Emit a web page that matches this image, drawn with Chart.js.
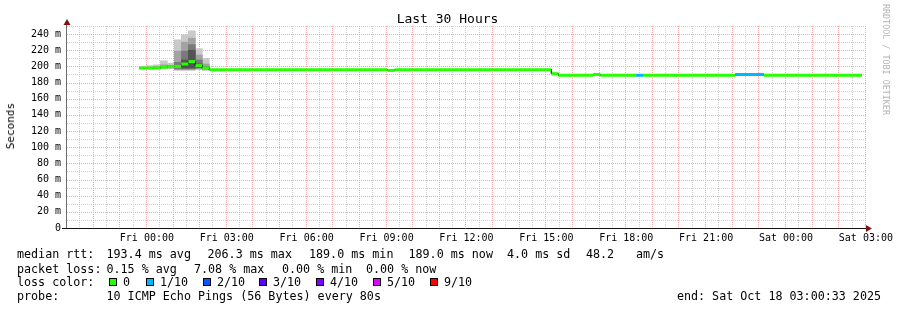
<!DOCTYPE html>
<html>
<head>
<meta charset="utf-8">
<script src="https://cdn.jsdelivr.net/npm/chart.js@4.4.1/dist/chart.umd.min.js"></script>
<style>
  body { margin: 0; background: #fff; }
  #wrap { position: relative; width: 897px; height: 310px; font-family: "DejaVu Sans Mono", monospace; color: #000; overflow: hidden; }
  #wrap canvas { position: absolute; left: 0; top: 0; }
  .t { position: absolute; white-space: pre; font-size: 11.7px; line-height: 14px; }
  .box { position: absolute; width: 8px; height: 8px; box-sizing: border-box; border: 1px solid #000; }
  #title { position: absolute; left: 447.5px; top: 11px; transform: translateX(-50%); font-size: 13px; line-height: 16px; white-space: pre; }
  #ytitle { position: absolute; left: 4px; top: 103px; writing-mode: vertical-rl; transform: rotate(180deg); font-size: 11px; line-height: 13px; white-space: pre; color: #000; }
  #credit { position: absolute; left: 881px; top: 4px; writing-mode: vertical-rl; font-size: 8.4px; line-height: 10px; color: #b4b4b4; white-space: pre; }
</style>
</head>
<body>
<div id="wrap">
  <canvas id="myChart" width="897" height="310"></canvas>
  <div id="title">Last 30 Hours</div>
  <div id="ytitle">Seconds</div>
  <div id="credit">RRDTOOL / TOBI OETIKER</div>

  <div class="t" style="left:17px;top:247px">median rtt:</div>
  <div class="t" style="left:106.5px;top:247px">193.4 ms avg</div>
  <div class="t" style="left:207.5px;top:247px">206.3 ms max</div>
  <div class="t" style="left:309px;top:247px">189.0 ms min</div>
  <div class="t" style="left:408.5px;top:247px">189.0 ms now</div>
  <div class="t" style="left:507px;top:247px">4.0 ms sd</div>
  <div class="t" style="left:586px;top:247px">48.2</div>
  <div class="t" style="left:636px;top:247px">am/s</div>

  <div class="t" style="left:17px;top:262px">packet loss:</div>
  <div class="t" style="left:106.5px;top:262px">0.15 % avg</div>
  <div class="t" style="left:194px;top:262px">7.08 % max</div>
  <div class="t" style="left:282px;top:262px">0.00 % min</div>
  <div class="t" style="left:366px;top:262px">0.00 % now</div>

  <div class="t" style="left:17px;top:275px">loss color:</div>
  <div class="box" style="left:109px;top:278px;background:#26ff00"></div>
  <div class="t" style="left:123px;top:275px">0</div>
  <div class="box" style="left:146px;top:278px;background:#00b8ff"></div>
  <div class="t" style="left:160px;top:275px">1/10</div>
  <div class="box" style="left:203px;top:278px;background:#0059ff"></div>
  <div class="t" style="left:217px;top:275px">2/10</div>
  <div class="box" style="left:259px;top:278px;background:#5e00ff"></div>
  <div class="t" style="left:273px;top:275px">3/10</div>
  <div class="box" style="left:316px;top:278px;background:#7e00ff"></div>
  <div class="t" style="left:330px;top:275px">4/10</div>
  <div class="box" style="left:373px;top:278px;background:#dd00ff"></div>
  <div class="t" style="left:387px;top:275px">5/10</div>
  <div class="box" style="left:430px;top:278px;background:#ff0000"></div>
  <div class="t" style="left:444px;top:275px">9/10</div>

  <div class="t" style="left:17px;top:289px">probe:</div>
  <div class="t" style="left:106.5px;top:289px">10 ICMP Echo Pings (56 Bytes) every 80s</div>
  <div class="t" style="right:16px;top:289px">end: Sat Oct 18 03:00:33 2025</div>
</div>

<script>
// x axis is hours since Thu 21:00
const xTickHours = [3, 6, 9, 12, 15, 18, 21, 24, 27, 30];
const xTickLabels = ["Fri 00:00", "Fri 03:00", "Fri 06:00", "Fri 09:00", "Fri 12:00",
                     "Fri 15:00", "Fri 18:00", "Fri 21:00", "Sat 00:00", "Sat 03:00"];
const yTickValues = [0, 20, 40, 60, 80, 100, 120, 140, 160, 180, 200, 220, 240];

const lossColors = ["#26ff00", "#00b8ff", "#0059ff", "#5e00ff", "#7e00ff", "#dd00ff", "#ff0000"];

// median rtt (ms) as steps: medEdges[i]..medEdges[i+1] has medValues[i]
const medEdges  = [2.72, 2.98, 3.24, 3.51, 3.77, 4.03, 4.29, 4.56, 4.82, 5.08, 5.34,
                   12.04, 12.30, 18.19, 18.45, 19.76, 20.03, 21.37, 21.64, 25.09, 26.17, 29.85];
const medValues = [198, 198, 198, 199, 200, 200, 203, 206, 201, 198,
                   196, 195, 196, 191, 189, 190, 189, 189, 189, 190, 189];
const medLoss   = [0, 0, 0, 0, 0, 0, 0, 0, 0, 0,
                   0, 0, 0, 0, 0, 0, 0, 1, 0, 1, 0];

// smoke (ping spread) columns, ms ranges, outer to inner
const smokeHours = [2.85, 3.1125, 3.375, 3.6375, 3.9, 4.1625, 4.425, 4.6875, 4.95, 5.2125];
const smokeOuter = [[196.5, 200], [196.5, 201], [197, 202], [197, 207], [197, 204],
                    [195, 233], [195, 239], [195, 244], [196, 222], [195, 210]];
const smokeMid   = [null, null, [197.5, 200], [198, 202], [198, 201],
                    [196, 219], [196, 230], [196, 235], [197, 214], [196, 203]];
const smokeInner = [null, null, null, null, null,
                    [197, 205], [197, 219], [197, 227], [198, 208], [197, 200]];
const smokeCore  = [null, null, null, null, null,
                    null, [198, 208], [198, 220], [199, 203], null];

const medPoints = [];
medValues.forEach((v, i) => {
  medPoints.push({x: medEdges[i], y: v});
  medPoints.push({x: medEdges[i + 1], y: v});
});

function smokeSet(ranges, color, order) {
  return {
    type: "bar",
    data: smokeHours.map((h, i) => ({x: h, y: ranges[i]})).filter(p => p.y),
    backgroundColor: color,
    borderWidth: 0,
    barPercentage: 1,
    categoryPercentage: 1,
    grouped: false,
    order: order
  };
}

const rrdLook = {
  id: "rrdLook",
  beforeDatasetsDraw(chart) {
    const {ctx, chartArea: a, scales: {x, y}} = chart;
    ctx.save();
    ctx.lineWidth = 1;
    ctx.setLineDash([1, 1]);
    const vline = (h, c) => {
      const px = Math.round(x.getPixelForValue(h)) - 0.5;
      ctx.strokeStyle = c;
      ctx.beginPath(); ctx.moveTo(px, a.top); ctx.lineTo(px, a.bottom); ctx.stroke();
    };
    const hline = (v, c) => {
      const py = Math.round(y.getPixelForValue(v)) + 0.5;
      ctx.strokeStyle = c;
      ctx.beginPath(); ctx.moveTo(a.left, py); ctx.lineTo(a.right, py); ctx.stroke();
    };
    for (let h = 0.5; h < 30; h += 1) vline(h, "#cfcfcf");
    for (let v = 10; v <= 250; v += 20) hline(v, "#cfcfcf");
    for (let h = 1; h <= 30; h += 1) vline(h, "#f7a8a8");
    for (let v = 20; v <= 240; v += 20) hline(v, "#f7a8a8");
    ctx.restore();
  },
  afterDatasetsDraw(chart) {
    const {ctx, chartArea: a} = chart;
    ctx.save();
    ctx.lineWidth = 1;
    ctx.strokeStyle = "#6e6e6e";
    ctx.beginPath(); ctx.moveTo(66.5, a.bottom); ctx.lineTo(66.5, a.top - 5); ctx.stroke();
    ctx.strokeStyle = "#111";
    ctx.beginPath(); ctx.moveTo(62, a.bottom + 0.5); ctx.lineTo(a.right + 3, a.bottom + 0.5); ctx.stroke();
    ctx.fillStyle = "#7f1010";
    ctx.beginPath(); ctx.moveTo(67, a.top - 7); ctx.lineTo(63.5, a.top - 1); ctx.lineTo(70.5, a.top - 1); ctx.closePath(); ctx.fill();
    ctx.beginPath(); ctx.moveTo(a.right + 6, a.bottom + 0.5); ctx.lineTo(a.right, a.bottom - 3); ctx.lineTo(a.right, a.bottom + 4); ctx.closePath(); ctx.fill();
    ctx.restore();
  }
};

const ctx = document.getElementById("myChart");

let config = {
  type: "line",
  data: {
    datasets: [
      {
        data: medPoints,
        borderColor: lossColors[0],
        borderWidth: 3,
        borderCapStyle: "butt",
        pointRadius: 0,
        tension: 0,
        fill: false,
        order: 0,
        segment: {
          borderColor: c => c.p0.parsed.x === c.p1.parsed.x
            ? "rgba(0,0,0,0)"
            : lossColors[medLoss[Math.floor(c.p0DataIndex / 2)]]
        }
      },
      {
        data: medPoints,
        borderColor: "#000",
        borderWidth: 1,
        pointRadius: 0,
        tension: 0,
        fill: false,
        order: 1
      },
      smokeSet(smokeCore, "#535353", 2),
      smokeSet(smokeInner, "#7a7a7a", 3),
      smokeSet(smokeMid, "#a3a3a3", 4),
      smokeSet(smokeOuter, "#c9c9c9", 5)
    ]
  },
  options: {
    responsive: false,
    animation: false,
    devicePixelRatio: 1,
    layout: { padding: { top: 26, right: 30, left: 0, bottom: 0 } },
    plugins: { legend: { display: false }, tooltip: { enabled: false }, title: { display: false } },
    scales: {
      x: {
        type: "linear",
        min: 0,
        max: 30,
        offset: false,
        afterFit: s => { s.height = 82; },
        afterBuildTicks: s => { s.ticks = xTickHours.map(v => ({value: v})); },
        grid: { display: false, drawTicks: false },
        border: { display: false },
        ticks: {
          autoSkip: false,
          maxRotation: 0,
          padding: 4,
          color: "#000",
          font: { family: "DejaVu Sans Mono", size: 10 },
          callback: v => {
            const i = xTickHours.indexOf(v);
            return i < 0 ? "" : xTickLabels[i];
          }
        }
      },
      y: {
        min: 0,
        max: 250,
        afterFit: s => { s.width = 67; },
        afterBuildTicks: s => { s.ticks = yTickValues.map(v => ({value: v})); },
        grid: { display: false, drawTicks: false },
        border: { display: false },
        ticks: {
          autoSkip: false,
          padding: 6,
          color: "#000",
          font: { family: "DejaVu Sans Mono", size: 10 },
          callback: v => v === 0 ? "0" : v + " m"
        }
      }
    }
  },
  plugins: [rrdLook]
};

let myChart = new Chart(ctx, config);
</script>
</body>
</html>
